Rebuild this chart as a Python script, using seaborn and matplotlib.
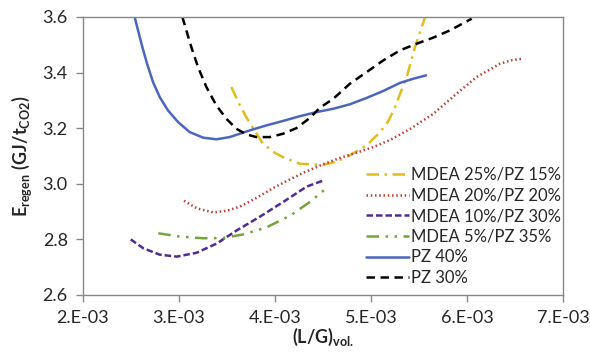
import matplotlib
matplotlib.use("Agg")
import matplotlib.pyplot as plt
import seaborn as sns
import pandas as pd

# ---- data ----
x_m25 = [3.545e-3, 3.62e-3, 3.70e-3, 3.79e-3, 3.875e-3, 3.98e-3, 4.08e-3, 4.26e-3, 4.50e-3, 4.62e-3,
         4.746e-3, 4.955e-3, 5.094e-3, 5.18e-3, 5.25e-3, 5.31e-3, 5.372e-3, 5.458e-3, 5.563e-3]
y_m25 = [3.348, 3.292, 3.24, 3.19, 3.144, 3.115, 3.096, 3.072, 3.068, 3.078,
         3.096, 3.138, 3.186, 3.225, 3.276, 3.33, 3.384, 3.492, 3.60]

x_m20 = [3.052e-3, 3.184e-3, 3.357e-3, 3.50e-3, 3.635e-3, 3.80e-3, 3.982e-3, 4.15e-3, 4.33e-3, 4.50e-3,
         4.677e-3, 4.85e-3, 5.024e-3, 5.20e-3, 5.41e-3, 5.65e-3, 5.89e-3, 6.10e-3, 6.344e-3, 6.47e-3, 6.58e-3]
y_m20 = [2.939, 2.912, 2.897, 2.903, 2.918, 2.948, 2.985, 3.015, 3.045, 3.07,
         3.093, 3.112, 3.132, 3.158, 3.198, 3.252, 3.324, 3.384, 3.432, 3.445, 3.45]

x_m10 = [2.497e-3, 2.628e-3, 2.80e-3, 2.976e-3, 3.184e-3, 3.392e-3, 3.60e-3, 3.844e-3, 4.087e-3, 4.33e-3, 4.52e-3]
y_m10 = [2.80, 2.768, 2.745, 2.738, 2.752, 2.785, 2.832, 2.882, 2.935, 2.99, 3.014]

x_m5 = [2.784e-3, 3.01e-3, 3.253e-3, 3.461e-3, 3.67e-3, 3.91e-3, 4.156e-3, 4.365e-3, 4.555e-3]
y_m5 = [2.822, 2.81, 2.804, 2.805, 2.818, 2.843, 2.885, 2.935, 2.99]

x_pz40 = [2.538e-3, 2.573e-3, 2.618e-3, 2.667e-3, 2.729e-3, 2.799e-3, 2.885e-3, 2.99e-3, 3.111e-3,
          3.25e-3, 3.389e-3, 3.528e-3, 3.736e-3, 3.91e-3, 4.083e-3, 4.257e-3, 4.434e-3, 4.608e-3,
          4.78e-3, 4.955e-3, 5.128e-3, 5.302e-3, 5.441e-3, 5.573e-3]
y_pz40 = [3.60, 3.552, 3.492, 3.432, 3.366, 3.312, 3.264, 3.222, 3.186,
          3.166, 3.16, 3.168, 3.192, 3.21, 3.226, 3.243, 3.258, 3.27,
          3.286, 3.309, 3.334, 3.363, 3.378, 3.39]

x_pz30 = [3.035e-3, 3.076e-3, 3.128e-3, 3.198e-3, 3.285e-3, 3.389e-3, 3.493e-3, 3.597e-3, 3.70e-3,
          3.805e-3, 3.944e-3, 4.083e-3, 4.222e-3, 4.36e-3, 4.469e-3, 4.608e-3, 4.78e-3, 4.955e-3,
          5.128e-3, 5.302e-3, 5.476e-3, 5.649e-3, 5.823e-3, 6.049e-3]
y_pz30 = [3.60, 3.552, 3.492, 3.42, 3.348, 3.282, 3.234, 3.198, 3.178,
          3.168, 3.168, 3.18, 3.20, 3.236, 3.274, 3.306, 3.36, 3.402,
          3.444, 3.48, 3.504, 3.526, 3.552, 3.594]

labels = ["MDEA 25%/PZ 15%", "MDEA 20%/PZ 20%", "MDEA 10%/PZ 30%",
          "MDEA 5%/PZ 35%", "PZ 40%", "PZ 30%"]
x_ticks = [2e-3, 3e-3, 4e-3, 5e-3, 6e-3, 7e-3]
x_ticklabels = ["2.E-03", "3.E-03", "4.E-03", "5.E-03", "6.E-03", "7.E-03"]
y_ticks = [2.6, 2.8, 3.0, 3.2, 3.4, 3.6]
y_ticklabels = ["2.6", "2.8", "3.0", "3.2", "3.4", "3.6"]

series = [(x_m25, y_m25), (x_m20, y_m20), (x_m10, y_m10),
          (x_m5, y_m5), (x_pz40, y_pz40), (x_pz30, y_pz30)]
colors = ["#E3BC1E", "#C0392B", "#4E2A9A", "#76A33A", "#4A67C0", "#000000"]
dashes = [(5, 2.2, 1, 2.2), (0.6, 1.1), (2.6, 1.2), (5, 2.6, 1, 2.6, 1, 2.6), None, (3.4, 2.2)]

# ---- style ----
sns.set_style("ticks")
plt.rcParams["font.family"] = ["Lato", "DejaVu Sans"]
plt.rcParams["mathtext.fontset"] = "custom"
plt.rcParams["mathtext.rm"] = "Lato:bold"
plt.rcParams["mathtext.bf"] = "Lato:bold"
plt.rcParams["mathtext.it"] = "Lato:bold"

fig = plt.figure(figsize=(5.9, 3.54), dpi=100)
ax = fig.add_axes([0.1407, 0.1667, 0.8136, 0.7853])

for (xs, ys), lab, col, ds in zip(series, labels, colors, dashes):
    df = pd.DataFrame({"x": xs, "y": ys})
    sns.lineplot(data=df, x="x", y="y", ax=ax, color=col, label=lab,
                 sort=False, estimator=None, linewidth=1.8)
    ln = ax.lines[-1]
    ln.set_solid_joinstyle("round")
    ln.set_dash_joinstyle("round")
    if ds is not None:
        ln.set_dashes(ds)

ax.set_xlim(2e-3, 7e-3)
ax.set_ylim(2.6, 3.6)
ax.set_xticks(x_ticks)
ax.set_xticklabels(x_ticklabels)
ax.set_yticks(y_ticks)
ax.set_yticklabels(y_ticklabels)
ax.tick_params(axis="both", labelsize=13, length=5, width=1, color="#888888",
               direction="out")
ax.tick_params(axis="x", pad=6)
ax.tick_params(axis="y", pad=6)
for s in ax.spines.values():
    s.set_visible(True)
    s.set_color("#888888")
    s.set_linewidth(1)

ax.set_xlabel(r"$\mathbf{(L/G)_{vol.}}$", fontsize=13, labelpad=0)
ax.set_ylabel(r"$\mathbf{E_{regen}\ (GJ/t_{CO2})}$", fontsize=13, labelpad=6)

leg = ax.legend(frameon=False, loc="upper left", bbox_to_anchor=(0.575, 0.485),
                fontsize=12, handlelength=2.6, handletextpad=0.1,
                labelspacing=0.28, borderaxespad=0)

fig.savefig("out.png", dpi=100)
